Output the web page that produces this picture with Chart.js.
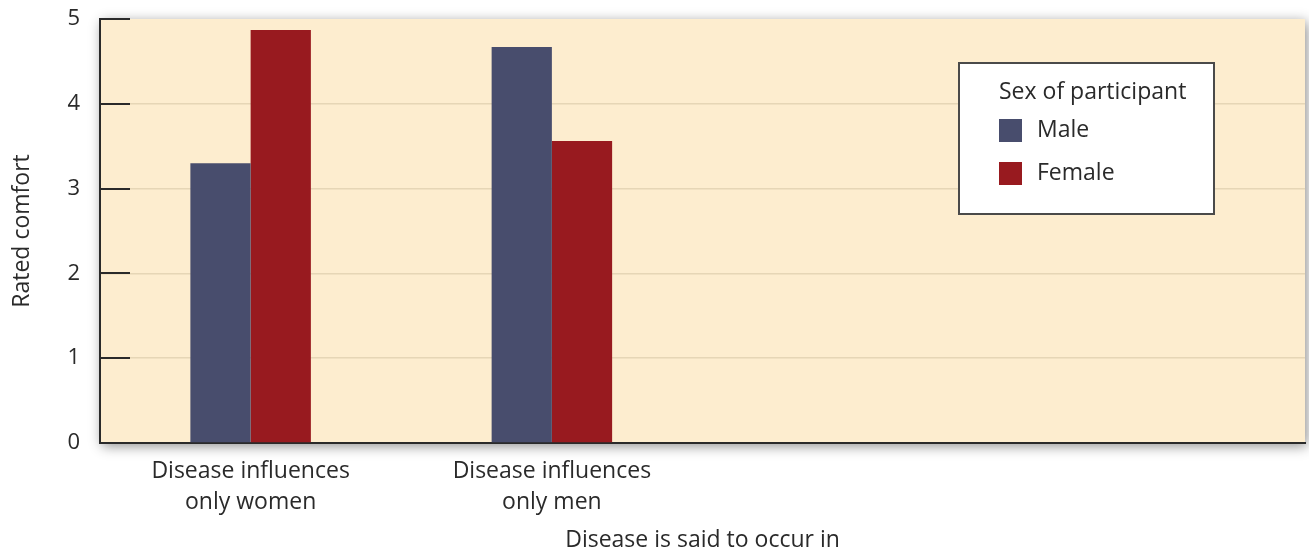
<!DOCTYPE html>
<html>
<head>
<meta charset="utf-8">
<script src="https://cdn.jsdelivr.net/npm/chart.js@4.4.1/dist/chart.umd.min.js"></script>
<style>
  html, body { margin: 0; padding: 0; background: #ffffff; }
  #wrap { width: 1309px; height: 554px; }
</style>
</head>
<body>
<div id="wrap"><canvas id="myChart" width="1309" height="554"></canvas></div>
<script>
const MaleColor = "#484d6d";
const FemaleColor = "#981a1f";
const PlotBg = "#fdedcf";
const TextColor = "#2a2a2a";

const categories = [
  ["Disease influences", "only women"],
  ["Disease influences", "only men"],
  "",
  "",
];
const maleValues = [3.3, 4.67, null, null];
const femaleValues = [4.87, 3.56, null, null];
const yTicks = [0, 1, 2, 3, 4, 5];

const font = { family: "'Open Sans', sans-serif", size: 23 };

// plot background with soft shadow
const plotBackground = {
  id: "plotBackground",
  beforeDraw(chart) {
    const { ctx, chartArea: a } = chart;
    ctx.save();
    ctx.shadowColor = "rgba(0,0,0,0.45)";
    ctx.shadowBlur = 12;
    ctx.shadowOffsetX = 2;
    ctx.shadowOffsetY = 3;
    ctx.fillStyle = PlotBg;
    ctx.fillRect(a.left, a.top, a.right - a.left, a.bottom - a.top);
    ctx.restore();
  },
};

// short dark tick marks pointing into the plot
const innerTicks = {
  id: "innerTicks",
  afterDatasetsDraw(chart) {
    const { ctx, chartArea: a, scales } = chart;
    ctx.save();
    ctx.strokeStyle = "#2a2a2a";
    ctx.lineWidth = 2;
    yTicks.forEach((v) => {
      if (v === 0) return;
      const y = Math.round(scales.y.getPixelForValue(v));
      ctx.beginPath();
      ctx.moveTo(a.left, y);
      ctx.lineTo(a.left + 30, y);
      ctx.stroke();
    });
    ctx.restore();
  },
};

// boxed legend inside the plot
const boxLegend = {
  id: "boxLegend",
  afterDraw(chart) {
    const { ctx } = chart;
    const x = 959, y = 63, w = 255, h = 151;
    ctx.save();
    ctx.fillStyle = "#ffffff";
    ctx.fillRect(x, y, w, h);
    ctx.strokeStyle = "#4a4a4a";
    ctx.lineWidth = 2;
    ctx.strokeRect(x, y, w, h);
    ctx.fillStyle = TextColor;
    ctx.font = "23px 'Open Sans', sans-serif";
    ctx.textBaseline = "middle";
    ctx.textAlign = "left";
    ctx.fillText("Sex of participant", 999, 92);
    chart.data.datasets.forEach((ds, i) => {
      const cy = 130 + i * 43;
      ctx.fillStyle = ds.backgroundColor;
      ctx.fillRect(999, cy - 11, 23, 23);
      ctx.fillStyle = TextColor;
      ctx.fillText(ds.label, 1037, cy);
    });
    ctx.restore();
  },
};

const ctx = document.getElementById("myChart").getContext("2d");
const myChart = new Chart(ctx, {
  type: "bar",
  data: {
    labels: categories,
    datasets: [
      {
        label: "Male",
        data: maleValues,
        backgroundColor: MaleColor,
        categoryPercentage: 0.4,
        barPercentage: 1.0,
      },
      {
        label: "Female",
        data: femaleValues,
        backgroundColor: FemaleColor,
        categoryPercentage: 0.4,
        barPercentage: 1.0,
      },
    ],
  },
  options: {
    responsive: false,
    animation: false,
    layout: { padding: { top: 19, right: 4, left: 0, bottom: 0 } },
    plugins: {
      legend: { display: false },
      tooltip: { enabled: false },
    },
    scales: {
      x: {
        afterFit(scale) { scale.height = 111; },
        grid: { display: false, drawTicks: false },
        border: { color: "#2a2a2a", width: 2 },
        ticks: { color: TextColor, font: { ...font, lineHeight: 1.35 }, padding: 13, maxRotation: 0, autoSkip: false },
        title: {
          display: true,
          text: "Disease is said to occur in",
          color: TextColor,
          font: font,
          padding: { top: 0, bottom: 0 },
        },
      },
      y: {
        min: 0,
        max: 5,
        afterFit(scale) {
          scale.width = 100;
          scale.paddingTop = 0;
          scale.paddingBottom = 0;
        },
        afterBuildTicks(scale) { scale.ticks = yTicks.map((v) => ({ value: v })); },
        grid: {
          drawTicks: false,
          color: (c) => (c.tick && c.tick.value > 0 && c.tick.value < 5 ? "#e6d6b6" : "rgba(0,0,0,0)"),
          lineWidth: 1.5,
        },
        border: { color: "#2a2a2a", width: 2 },
        ticks: { color: TextColor, font: { ...font, size: 22, lineHeight: 1.2 }, padding: 20 },
        title: {
          display: true,
          text: "Rated comfort",
          color: TextColor,
          font: font,
          padding: { top: 9, bottom: 0 },
        },
      },
    },
  },
  plugins: [plotBackground, innerTicks, boxLegend],
});
</script>
</body>
</html>
